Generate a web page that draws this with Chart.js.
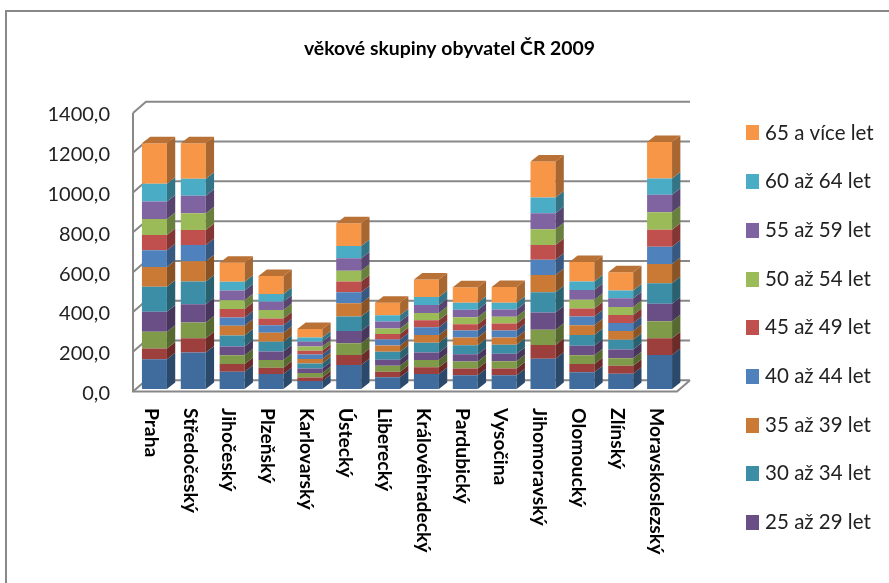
<!DOCTYPE html>
<html lang="cs">
<head>
<meta charset="utf-8">
<title>věkové skupiny obyvatel ČR 2009</title>
<script src="https://cdn.jsdelivr.net/npm/chart.js@4/dist/chart.umd.min.js"></script>
<style>
html,body{margin:0;padding:0;background:#fff;overflow:hidden}
canvas{display:block;filter:blur(0.6px)}
</style>
</head>
<body>
<canvas id="c" width="889" height="583"></canvas>
<script>
const titleText = 'věkové skupiny obyvatel ČR 2009';
const categories = ['Praha','Středočeský','Jihočeský','Plzeňský','Karlovarský','Ústecký','Liberecký','Královéhradecký','Pardubický','Vysočina','Jihomoravský','Olomoucký','Zlínský','Moravskoslezský'];
const yTicks = {min:0, max:1400, step:200};

const age0to14  = [149,183,87,75,40,121,59,75,69,69,152,84,77,171];
const age15to19 = [55,72,39,32,18,50,28,34,34,34,69,42,40,84];
const age20to24 = [84,79,44,39,23,59,30,37,35,37,77,44,37,85];
const age25to29 = [100,92,44,42,22,62,30,37,37,37,87,47,44,89];
const age30to34 = [126,114,55,50,25,72,40,49,45,45,101,54,49,102];
const age35to39 = [99,102,49,45,23,67,32,40,39,37,87,50,45,97];
const age40to44 = [84,82,42,37,23,55,30,39,35,35,77,44,40,87];
const age45to49 = [77,75,42,35,18,54,28,34,32,35,74,40,40,85];
const age50to54 = [80,84,44,42,22,55,27,37,35,34,79,44,40,89];
const age55to59 = [89,89,49,42,23,62,35,40,37,37,80,49,44,87];
const age60to64 = [89,85,44,39,22,62,32,40,35,34,79,42,39,82];
const age65plus = [203,178,95,90,42,114,62,89,79,79,181,99,92,183];

const seriesNames = ['0 až 14 let','15 až 19 let','20 až 24 let','25 až 29 let','30 až 34 let','35 až 39 let','40 až 44 let','45 až 49 let','50 až 54 let','55 až 59 let','60 až 64 let','65 a více let'];
const seriesValues = [age0to14,age15to19,age20to24,age25to29,age30to34,age35to39,age40to44,age45to49,age50to54,age55to59,age60to64,age65plus];
const seriesColors = ['#3F6B9D','#9C3F3D','#7F9A48','#6A4F87','#3C8EA6','#CB7A36','#4F81BD','#C0504D','#9BBB59','#8064A2','#4BACC6','#F79646'];
const legendHiddenCount = 3;

const FONT = 'Lato, "Open Sans", sans-serif';
const GRID = '#888888';
const DEPTH_X = 8.3, DEPTH_Y = 6.5;
const WALL_X = 11, WALL_Y = 8.7, FRONT_X = -2, FRONT_Y = 2.5;

function shade(hex, f){
  const n = parseInt(hex.slice(1),16);
  const c = s => Math.round(((n>>s)&255)*f);
  return `rgb(${c(16)},${c(8)},${c(0)})`;
}

function swatch(color){
  const cv = document.createElement('canvas');
  cv.width = 13; cv.height = 15;
  const g = cv.getContext('2d');
  g.fillStyle = color; g.fillRect(0,0,13,15);
  return cv;
}

const framePlugin = {
  id:'frame',
  afterLayout(chart){
    const lg = chart.legend;
    lg.left = 721.9; lg.right = 889; lg.top = 94.5; lg.bottom = 583;
    const tb = chart.titleBlock;
    tb.left = 10; tb.right = 889;
  },
  beforeDatasetsDraw(chart){
    const {ctx, chartArea:a, scales:{y}} = chart;
    ctx.save();
    ctx.strokeStyle = GRID; ctx.lineWidth = 2;
    ctx.beginPath();
    ctx.moveTo(889,11); ctx.lineTo(6,11); ctx.lineTo(6,583);
    ctx.stroke();
    const fl = a.left+FRONT_X, fr = a.right+FRONT_X;
    y.ticks.forEach(t=>{
      const py = y.getPixelForValue(t.value);
      ctx.beginPath();
      ctx.moveTo(fl, py+FRONT_Y);
      ctx.lineTo(fl+WALL_X+2, py-WALL_Y);
      ctx.lineTo(fr+WALL_X+2, py-WALL_Y);
      ctx.stroke();
    });
    const y0 = y.getPixelForValue(0), yT = y.getPixelForValue(yTicks.max);
    ctx.beginPath();
    ctx.moveTo(fl, yT+FRONT_Y);
    ctx.lineTo(fl, y0+FRONT_Y);
    ctx.lineTo(fr, y0+FRONT_Y);
    ctx.lineTo(fr+WALL_X+2, y0-WALL_Y);
    ctx.stroke();
    ctx.restore();
  },
  afterDatasetsDraw(chart){
    const {ctx} = chart;
    ctx.save();
    const last = chart.data.datasets.length-1;
    chart.data.datasets.forEach((ds,di)=>{
      chart.getDatasetMeta(di).data.forEach(el=>{
        const {x,y,base,width} = el.getProps(['x','y','base','width'],true);
        const r = x+width/2, l = x-width/2;
        ctx.fillStyle = shade(ds.backgroundColor,0.68);
        ctx.beginPath();
        ctx.moveTo(r,y); ctx.lineTo(r+DEPTH_X,y-DEPTH_Y);
        ctx.lineTo(r+DEPTH_X,base-DEPTH_Y); ctx.lineTo(r,base);
        ctx.closePath(); ctx.fill();
        if(di===last){
          ctx.fillStyle = shade(ds.backgroundColor,0.75);
          ctx.beginPath();
          ctx.moveTo(l,y); ctx.lineTo(l+DEPTH_X,y-DEPTH_Y);
          ctx.lineTo(r+DEPTH_X,y-DEPTH_Y); ctx.lineTo(r,y);
          ctx.closePath(); ctx.fill();
        }
      });
    });
    ctx.restore();
  },
  afterDraw(chart){
    const {ctx, scales:{x}} = chart;
    ctx.save();
    ctx.fillStyle = '#000';
    ctx.font = 'bold 19.3px '+FONT;
    ctx.textAlign = 'left';
    ctx.textBaseline = 'middle';
    x.ticks.forEach((t,i)=>{
      ctx.save();
      ctx.translate(x.getPixelForTick(i)-3.5, 408);
      ctx.rotate(Math.PI/2);
      ctx.fillText(x.getLabelForValue(t.value),0,0);
      ctx.restore();
    });
    ctx.restore();
  }
};

new Chart(document.getElementById('c'),{
  type:'bar',
  data:{
    labels:categories,
    datasets:seriesNames.map((n,i)=>({
      label:n,
      data:seriesValues[i],
      backgroundColor:seriesColors[i],
      borderWidth:0,
      barPercentage:1,
      categoryPercentage:0.643
    }))
  },
  options:{
    responsive:false,
    animation:false,
    layout:{padding:{left:0,right:110,top:0,bottom:0}},
    plugins:{
      tooltip:{enabled:false},
      title:{
        display:true,
        text:titleText,
        color:'#000',
        font:{family:FONT,size:19.4,weight:'bold',lineHeight:1.2},
        padding:{top:37,bottom:50.2}
      },
      legend:{
        position:'right',
        align:'start',
        maxWidth:100,
        reverse:true,
        labels:{
          usePointStyle:true,
          pointStyleWidth:4.75,
          padding:28.2,
          color:'#222',
          font:{family:FONT,size:20.5},
          generateLabels(chart){
            return Chart.defaults.plugins.legend.labels.generateLabels(chart)
              .map(it=>({...it,pointStyle:swatch(seriesColors[it.datasetIndex])}));
          },
          filter:(item)=>item.datasetIndex>=legendHiddenCount
        }
      }
    },
    scales:{
      x:{
        stacked:true,
        grid:{display:false},
        border:{display:false},
        ticks:{display:false},
        afterFit(s){s.height=194;}
      },
      y:{
        stacked:true,
        min:yTicks.min,max:yTicks.max,
        grid:{display:false,drawTicks:false},
        border:{display:false},
        ticks:{
          stepSize:yTicks.step,
          padding:25,
          labelOffset:4.5,
          color:'#222',
          font:{family:FONT,size:20},
          callback:v=>v.toFixed(1).replace('.',',')
        },
        afterFit(s){s.width=135;}
      }
    }
  },
  plugins:[framePlugin]
});
</script>
</body>
</html>
